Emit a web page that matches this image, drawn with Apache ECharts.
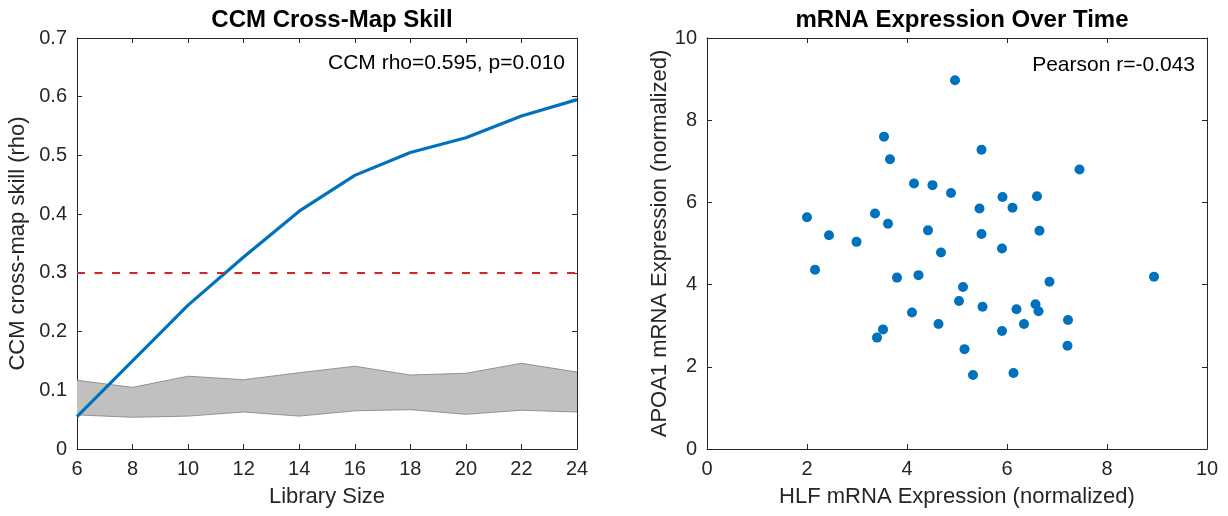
<!DOCTYPE html>
<html>
<head>
<meta charset="utf-8">
<script src="https://cdn.jsdelivr.net/npm/echarts@6/dist/echarts.min.js"></script>
<style>
  html, body { margin: 0; padding: 0; background: #fff; }
  #chart { width: 1228px; height: 516px; }
</style>
</head>
<body>
<div id="chart"></div>
<script>
// left panel: CCM skill vs library size
var librarySize = [6, 8, 10, 12, 14, 16, 18, 20, 22, 24];
var ccmRho = [0.055, 0.150, 0.245, 0.327, 0.405, 0.466, 0.505, 0.530, 0.567, 0.595];
var surrogateLow = [0.058, 0.054, 0.056, 0.063, 0.056, 0.065, 0.067, 0.059, 0.066, 0.063];
var surrogateHigh = [0.117, 0.105, 0.124, 0.118, 0.130, 0.141, 0.126, 0.129, 0.146, 0.131];
var rhoThreshold = 0.3;

// right panel: scatter HLF vs APOA1
var hlfExpr = [4.96, 3.54, 5.49, 3.66, 7.45, 4.14, 4.51, 4.88, 5.91, 6.60, 5.45,
  6.11, 2.00, 3.36, 3.62, 4.42, 5.49, 6.65, 2.44, 2.99, 4.68, 5.90,
  2.16, 3.80, 4.23, 8.94, 5.12, 6.85, 5.04, 5.51, 6.19, 6.57, 6.63,
  7.22, 4.10, 4.63, 6.34, 5.90, 3.52, 3.40, 5.15, 7.21, 5.32, 6.13];
var apoa1Expr = [8.97, 7.60, 7.28, 7.05, 6.80, 6.46, 6.42, 6.23, 6.13, 6.15, 5.85,
  5.87, 5.64, 5.73, 5.48, 5.32, 5.23, 5.31, 5.20, 5.04, 4.78, 4.88,
  4.36, 4.17, 4.23, 4.19, 3.94, 4.07, 3.60, 3.46, 3.40, 3.52, 3.35,
  3.14, 3.32, 3.04, 3.04, 2.87, 2.91, 2.71, 2.43, 2.51, 1.80, 1.85];

var FONT = '"Liberation Sans", Arial, Helvetica, sans-serif';
var DARK = '#262626';

function pairs(xs, ys) {
  var out = [];
  for (var i = 0; i < xs.length; i++) out.push([xs[i], ys[i]]);
  return out;
}
// band drawn as low + (high - low) stacked
var bandWidth = surrogateHigh.map(function (v, i) { return +(v - surrogateLow[i]).toFixed(4); });

function axisBase(grid, pos, showLabel) {
  return {
    gridIndex: grid, position: pos,
    splitLine: { show: false },
    axisLine: { show: true, onZero: false, lineStyle: { color: DARK, width: 1 } },
    axisTick: { show: true, inside: true, length: 5, lineStyle: { color: DARK } },
    axisLabel: { show: showLabel, color: DARK, fontSize: 20, fontFamily: FONT, margin: 10 }
  };
}
function catAxis(grid, pos, showLabel) {
  var a = axisBase(grid, pos, showLabel);
  a.type = 'category';
  a.data = librarySize;
  a.boundaryGap = false;
  return a;
}
function valAxis(grid, pos, min, max, interval, showLabel) {
  var a = axisBase(grid, pos, showLabel);
  a.type = 'value';
  a.min = min; a.max = max; a.interval = interval;
  return a;
}
function setName(a, text, gap) {
  a.name = text;
  a.nameLocation = 'middle';
  a.nameGap = gap;
  a.nameTextStyle = { fontSize: 22, color: DARK, fontFamily: FONT };
  return a;
}

var xLeft = setName(catAxis(0, 'bottom', true), 'Library Size', 37);
var xLeftTop = catAxis(0, 'top', false);
var yLeft = setName(valAxis(0, 'left', 0, 0.7, 0.1, true), 'CCM cross-map skill (rho)', 48);
var yLeftRight = valAxis(0, 'right', 0, 0.7, 0.1, false);

var xRight = setName(valAxis(1, 'bottom', 0, 10, 2, true), 'HLF mRNA Expression (normalized)', 37);
var xRightTop = valAxis(1, 'top', 0, 10, 2, false);
var yRight = setName(valAxis(1, 'left', 0, 10, 2, true), 'APOA1 mRNA Expression (normalized)', 36);
var yRightRight = valAxis(1, 'right', 0, 10, 2, false);

var myChart = echarts.init(document.getElementById('chart'));
myChart.setOption({
  animation: false,
  backgroundColor: '#fff',
  title: [
    { text: 'CCM Cross-Map Skill', left: 327, top: 3, textAlign: 'center',
      textStyle: { fontSize: 24, fontWeight: 'bold', color: '#000', fontFamily: FONT } },
    { text: 'mRNA Expression Over Time', left: 957, top: 3, textAlign: 'center',
      textStyle: { fontSize: 24, fontWeight: 'bold', color: '#000', fontFamily: FONT } }
  ],
  grid: [
    { left: 77, right: 651, top: 38, bottom: 67 },
    { left: 707, right: 21, top: 38, bottom: 67 }
  ],
  xAxis: [xLeft, xLeftTop, xRight, xRightTop],
  yAxis: [yLeft, yLeftRight, yRight, yRightRight],
  graphic: [
    { type: 'text', right: 1228 - 565, top: 53,
      style: { text: 'CCM rho=0.595, p=0.010', fill: '#000', font: '21px ' + FONT, textAlign: 'right' } },
    { type: 'text', right: 1228 - 1195, top: 55,
      style: { text: 'Pearson r=-0.043', fill: '#000', font: '21px ' + FONT, textAlign: 'right' } }
  ],
  series: [
    {
      name: 'surrogate low', type: 'line', xAxisIndex: 0, yAxisIndex: 0,
      stack: 'band', data: surrogateLow,
      symbol: 'none', silent: true, z: 1,
      lineStyle: { color: '#7f7f7f', width: 0.8 }
    },
    {
      name: 'surrogate band', type: 'line', xAxisIndex: 0, yAxisIndex: 0,
      stack: 'band', data: bandWidth,
      symbol: 'none', silent: true, z: 1,
      lineStyle: { color: '#7f7f7f', width: 0.8 },
      areaStyle: { color: '#c0c0c0', opacity: 1 }
    },
    {
      name: 'CCM rho', type: 'line', xAxisIndex: 0, yAxisIndex: 0,
      data: ccmRho,
      symbol: 'none', z: 3,
      lineStyle: { color: '#0072BD', width: 3.2 },
      markLine: {
        silent: true, symbol: 'none', label: { show: false },
        lineStyle: { color: '#d9222a', width: 2, type: [8, 9.5] },
        data: [{ yAxis: rhoThreshold }]
      }
    },
    {
      name: 'HLF vs APOA1', type: 'scatter', xAxisIndex: 2, yAxisIndex: 2,
      data: pairs(hlfExpr, apoa1Expr),
      symbolSize: 10,
      itemStyle: { color: '#0072BD', opacity: 1 }
    }
  ]
});
</script>
</body>
</html>
